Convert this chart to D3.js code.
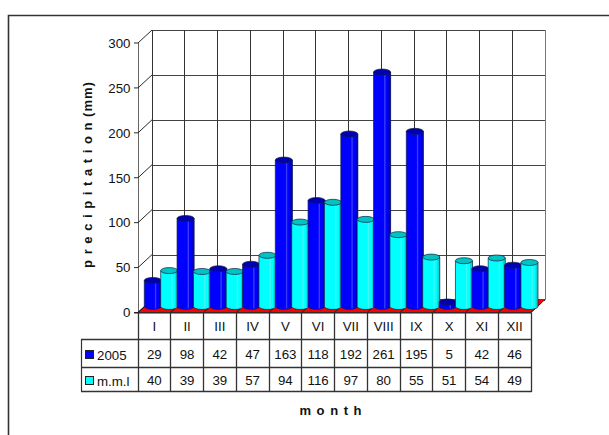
<!DOCTYPE html>
<html>
<head>
<meta charset="utf-8">
<script src="https://cdn.jsdelivr.net/npm/d3@7"></script>
<style>
html,body{margin:0;padding:0;background:#fff}
svg{display:block}
text{font-family:"Liberation Sans",Arial,sans-serif;fill:#111}
</style>
</head>
<body>
<svg id="c" width="609" height="435"></svg>
<script>
const months = ["I","II","III","IV","V","VI","VII","VIII","IX","X","XI","XII"];
const seriesNames = ["2005","m.m.l"];
const values2005 = [29,98,42,47,163,118,192,261,195,5,42,46];
const valuesMml = [40,39,39,57,94,116,97,80,55,51,54,49];
const yTicks = [0,50,100,150,200,250,300];

const svg = d3.select("#c");
const dx = 14, dy = -13;
const pLeft = 138, pRight = 531, pTop = 43, pBottom = 312.5;
const fs = 13.3;
const y = d3.scaleLinear().domain([0,300]).range([pBottom, pTop]);
const x = d3.scaleBand().domain(months).range([pLeft, pRight]);
const series = [
  {name: seriesNames[0], values: values2005, body:"#0000ff", topc:"#0000b0", light:"#3a3aff", dark:"#0000c8"},
  {name: seriesNames[1], values: valuesMml, body:"#00ffff", topc:"#00c4c4", light:"#40f4f4", dark:"#00d8d8"}
];
const sub = d3.scaleBand().domain([0,1]).range([0, x.bandwidth()]);

// frame
svg.append("path").attr("d","M8.5,435V15.5H609").attr("fill","none").attr("stroke","#333").attr("stroke-width",1.6);

// back wall grid
const g = svg.append("g").attr("fill","none").attr("shape-rendering","crispEdges");
yTicks.forEach(t => {
  g.append("line").attr("x1",pLeft+dx).attr("x2",pRight+dx).attr("y1",Math.round(y(t)+dy)+.5).attr("y2",Math.round(y(t)+dy)+.5)
    .attr("stroke", "#444");
  svg.append("line").attr("x1",pLeft).attr("x2",pLeft+dx).attr("y1",y(t)).attr("y2",y(t)+dy).attr("stroke","#111").attr("stroke-width",.9);
  svg.append("line").attr("x1",pLeft-4).attr("x2",pLeft).attr("y1",y(t)).attr("y2",y(t)).attr("stroke","#111").attr("stroke-width",.9);
  svg.append("text").attr("x",pLeft-7.5).attr("y",y(t)+4.8).attr("text-anchor","end").attr("font-size",fs).text(t);
});
months.forEach((m,i) => {
  const xx = Math.floor(x(m)+dx)+.5;
  g.append("line").attr("x1",xx).attr("x2",xx).attr("y1",y(300)+dy).attr("y2",y(0)+dy).attr("stroke","#333");
});
g.append("line").attr("x1",pRight+dx+.5).attr("x2",pRight+dx+.5).attr("y1",y(300)+dy).attr("y2",y(0)+dy).attr("stroke","#777").attr("stroke-width",1.5);
g.append("line").attr("x1",pLeft+.5).attr("x2",pLeft+.5).attr("y1",y(300)).attr("y2",y(0)).attr("stroke","#666").attr("stroke-width",1.2);

// floor
svg.append("polygon").attr("points",[[pLeft,pBottom],[pRight,pBottom],[pRight+dx,pBottom+dy],[pLeft+dx,pBottom+dy]].join(" ")).attr("fill","#ff0000").attr("stroke","#111").attr("stroke-width",.6);
months.concat(["end"]).forEach((m,i) => {
  const xx = m==="end" ? pRight : x(m);
  svg.append("line").attr("x1",xx).attr("x2",xx+dx*.75).attr("y1",pBottom).attr("y2",pBottom+dy*.75).attr("stroke","#111").attr("stroke-width",.8);
});
svg.append("line").attr("x1",pLeft-4).attr("x2",pRight).attr("y1",pBottom+.3).attr("y2",pBottom+.3).attr("stroke","#222").attr("stroke-width",1.2);

// cylinders
const cyl = svg.append("g");
const inset = 6.3, lift = -6;
months.forEach((m,i) => {
  series.forEach((s,k) => {
    const x0 = x(m)+sub(k)+inset, w = sub.bandwidth()+.7, rx = w/2, ry = 3;
    const base = y(0)+lift, t = y(s.values[i])+lift;
    const c = cyl.append("g");
    c.append("path").attr("d",`M${x0},${t}V${base}A${rx},${ry} 0 0 0 ${x0+w},${base}V${t}Z`).attr("fill",s.body);
    c.append("rect").attr("x",x0+w*.62).attr("y",t).attr("width",w*.08).attr("height",base-t+2).attr("fill",s.light);
    c.append("rect").attr("x",x0+w*.86).attr("y",t).attr("width",w*.14).attr("height",base-t+1).attr("fill",s.dark);
    c.append("path").attr("d",`M${x0},${t}V${base}A${rx},${ry} 0 0 0 ${x0+w},${base}V${t}`).attr("fill","none").attr("stroke","#102040").attr("stroke-width",.7);
    c.append("ellipse").attr("cx",x0+rx).attr("cy",t).attr("rx",rx).attr("ry",ry).attr("fill",s.topc).attr("stroke","#102040").attr("stroke-width",.7);
  });
});

// data table
const tableLeft = 81, rows = [339,367,391];
const tg = svg.append("g");
rows.forEach(r => tg.append("line").attr("x1",tableLeft).attr("x2",pRight+.7).attr("y1",r+.5).attr("y2",r+.5).attr("stroke","#333").attr("stroke-width",1.4));
tg.append("line").attr("x1",tableLeft+.5).attr("x2",tableLeft+.5).attr("y1",339).attr("y2",391.5).attr("stroke","#333").attr("stroke-width",1.2);
months.concat(["end"]).forEach(m => {
  const xx = Math.floor(m==="end" ? pRight : x(m))+.5;
  tg.append("line").attr("x1",xx).attr("x2",xx).attr("y1",pBottom).attr("y2",392).attr("stroke","#333").attr("stroke-width",1.3);
});
months.forEach(m => {
  svg.append("text").attr("x",x(m)+x.bandwidth()/2).attr("y",331).attr("text-anchor","middle").attr("font-size",fs).text(m);
});
series.forEach((s,k) => {
  const base = k===0 ? 359 : 385;
  svg.append("rect").attr("x",85.5).attr("y",base-8.5).attr("width",8).attr("height",8).attr("fill",s.body).attr("stroke","#222").attr("shape-rendering","crispEdges");
  svg.append("text").attr("x",97).attr("y",base+1).attr("font-size",fs).text(s.name);
  months.forEach((m,i) => {
    svg.append("text").attr("x",x(m)+x.bandwidth()/2).attr("y",base).attr("text-anchor","middle").attr("font-size",fs).text(s.values[i]);
  });
});

// axis titles
svg.append("text").attr("transform","translate(92,174.5) rotate(-90)").attr("text-anchor","middle").attr("font-size",13).attr("letter-spacing",1).attr("font-weight","bold").text("p r e c i p i t a t i o n (mm)");
svg.append("text").attr("x",331).attr("y",415).attr("text-anchor","middle").attr("font-size",13).attr("letter-spacing",1).attr("font-weight","bold").text("m o n t h");
</script>
</body>
</html>
